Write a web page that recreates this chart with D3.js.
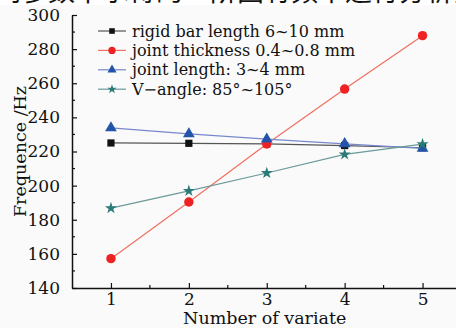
<!DOCTYPE html>
<html>
<head>
<meta charset="utf-8">
<script src="https://cdn.jsdelivr.net/npm/d3@7"></script>
<style>
  body { margin: 0; background: #fafafa; }
  svg { display: block; }
  text { font-family: "DejaVu Serif", serif; fill: #111; }
</style>
</head>
<body>
<svg id="chart" width="456" height="328"></svg>
<script>
const variates = [1, 2, 3, 4, 5];
const rigidBar = [225, 224.8, 224.5, 223.5, 222.2];
const jointThickness = [157.2, 190.4, 224.4, 256.6, 287.9];
const jointLength = [233.8, 230.3, 227.2, 224.5, 221.8];
const vAngle = [186.8, 196.9, 207.4, 218.3, 224.3];
const seriesNames = [
  "rigid bar length 6~10 mm",
  "joint thickness 0.4~0.8 mm",
  "joint length: 3~4 mm",
  "V\u2212angle: 85\u00b0~105\u00b0",
];
const yTicks = [140, 160, 180, 200, 220, 240, 260, 280, 300];
const xTicks = [1, 2, 3, 4, 5];

const series = [
  { name: seriesNames[0], values: rigidBar, color: "#111111", line: "#555", symbol: d3.symbolSquare, size: 52 },
  { name: seriesNames[1], values: jointThickness, color: "#ee2222", line: "#f07060", symbol: d3.symbolCircle, size: 70 },
  { name: seriesNames[2], values: jointLength, color: "#2255aa", line: "#7788cc", symbol: d3.symbolTriangle, size: 60 },
  { name: seriesNames[3], values: vAngle, color: "#2a7a78", line: "#6a9a98", symbol: d3.symbolStar, size: 45 },
];

const svg = d3.select("#chart");
const margin = { left: 72, top: 15, bottom: 40 };
const height = +svg.attr("height");

// cut-off caption from the page above the figure
svg.append("rect").attr("width", 456).attr("height", 5).attr("fill", "#fff");
svg.append("text")
  .attr("x", -6).attr("y", 1)
  .style("font-family", "'Noto Sans CJK SC', sans-serif")
  .style("font-size", "27px")
  .text("同参数下求得的一阶固有频率进行分析比");

const x = d3.scaleLinear().domain([0.5, 5.5]).range([margin.left, margin.left + 5 * 77.9]);
const y = d3.scaleLinear().domain([140, 300]).range([height - margin.bottom, margin.top]);

// minor ticks
const yMinor = d3.range(150, 300, 20);
svg.append("g").selectAll("line").data(yMinor).join("line")
  .attr("x1", margin.left).attr("x2", margin.left + 3)
  .attr("y1", (d) => y(d)).attr("y2", (d) => y(d))
  .attr("stroke", "#111").attr("stroke-width", 1.2);
const xMinor = d3.range(1.5, 5, 1);
svg.append("g").selectAll("line").data(xMinor).join("line")
  .attr("x1", (d) => x(d)).attr("x2", (d) => x(d))
  .attr("y1", y(140)).attr("y2", y(140) - 3)
  .attr("stroke", "#111").attr("stroke-width", 1.2);

const yAxis = svg.append("g")
  .attr("transform", `translate(${margin.left},0)`)
  .call(d3.axisLeft(y).tickValues(yTicks).tickSizeInner(-5).tickSizeOuter(0).tickPadding(12));
const xAxis = svg.append("g")
  .attr("transform", `translate(0,${y(140)})`)
  .call(d3.axisBottom(x).tickValues(xTicks).tickFormat(d3.format("d"))
    .tickSizeInner(-5).tickSizeOuter(0).tickPadding(5));

[yAxis, xAxis].forEach((g) => {
  g.select(".domain").attr("stroke", "#111").attr("stroke-width", 1.5);
  g.selectAll(".tick line").attr("stroke", "#111").attr("stroke-width", 1.2);
  g.selectAll(".tick text")
    .style("font-family", "'DejaVu Serif', serif")
    .style("font-size", "17px").attr("fill", "#111");
});

svg.append("text")
  .attr("transform", `translate(20,${y(220)}) rotate(-90)`)
  .attr("text-anchor", "middle")
  .attr("dy", "0.35em")
  .style("font-size", "17.5px")
  .text("Frequence /Hz");
svg.append("text")
  .attr("x", x(3) - 2).attr("y", 324)
  .attr("text-anchor", "middle")
  .style("font-size", "17.5px")
  .text("Number of variate");

const line = d3.line().x((d, i) => x(variates[i])).y((d) => y(d));

series.forEach((s) => {
  svg.append("path")
    .datum(s.values)
    .attr("fill", "none")
    .attr("stroke", s.line)
    .attr("stroke-width", 1.2)
    .attr("d", line);
  svg.append("g").selectAll("path").data(s.values).join("path")
    .attr("transform", (d, i) => `translate(${x(variates[i])},${y(d)})`)
    .attr("d", d3.symbol(s.symbol, s.size))
    .attr("fill", s.color);
});

// legend
const legend = svg.append("g").attr("transform", "translate(98,31)");
const rows = legend.selectAll("g").data(series).join("g")
  .attr("transform", (d, i) => `translate(0,${i * 19.4})`);
rows.append("line")
  .attr("x1", 0).attr("x2", 28)
  .attr("stroke", (d) => d.line).attr("stroke-width", 1.2);
rows.append("path")
  .attr("transform", "translate(14,0)")
  .attr("d", (d) => d3.symbol(d.symbol, d.size * 0.6)())
  .attr("fill", (d) => d.color);
rows.append("text")
  .attr("x", 34).attr("dy", "0.35em")
  .style("font-size", "16px")
  .text((d) => d.name);
</script>
</body>
</html>
